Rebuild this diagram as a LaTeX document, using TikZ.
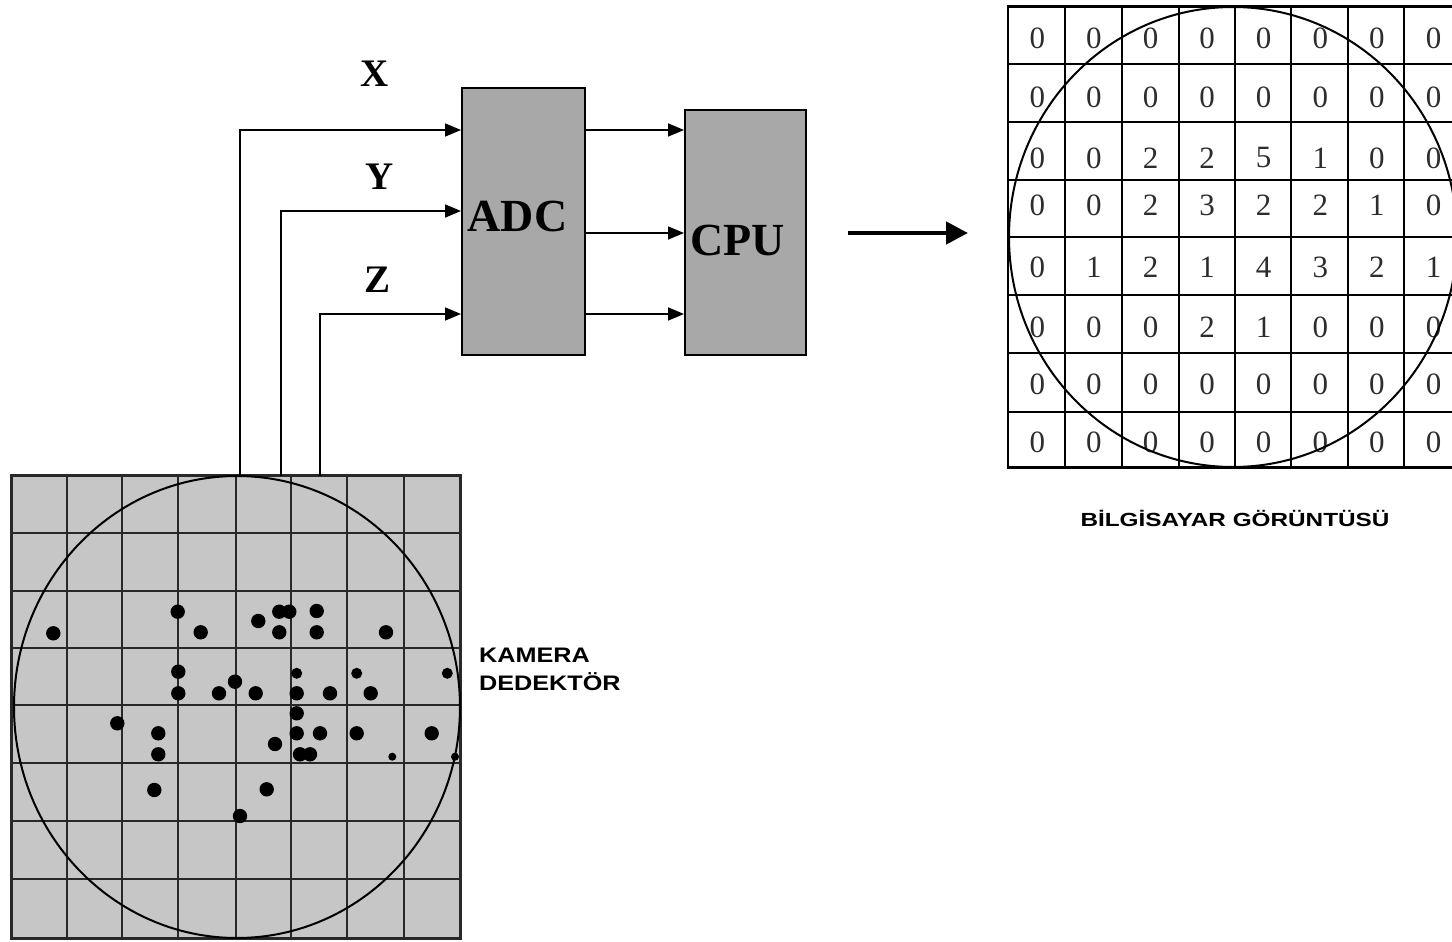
\documentclass[tikz,border=0pt]{standalone}
\usepackage{fontspec}
\usepackage{graphicx}
\setmainfont{Liberation Serif}
\newfontfamily\labelsans{Liberation Sans}
\usetikzlibrary{arrows.meta,calc}
\definecolor{detgray}{RGB}{198,198,198}
\definecolor{boxgray}{RGB}{168,168,168}
\definecolor{gridcol}{RGB}{40,40,40}
\definecolor{numcol}{RGB}{45,45,45}
\begin{document}
\begin{tikzpicture}[x=1pt,y=-1pt,
  box/.style={draw=black, line width=2pt, fill=boxgray, inner sep=0pt},
  boxtext/.style={font=\bfseries\fontsize{46}{50}\selectfont},
  axlabel/.style={font=\bfseries\fontsize{39}{42}\selectfont},
  arr/.style={line width=1.6pt, -{Triangle[length=16pt,width=13pt]}},
  bigarr/.style={line width=4.5pt, -{Triangle[length=22pt,width=22pt]}},
  gridline/.style={draw=gridcol, line width=2.2pt},
  mline/.style={draw=black, line width=2.2pt},
  rim/.style={draw=black, line width=2pt},
  dot/.style={fill=black},
  num/.style={font=\fontsize{31}{34}\selectfont, text=numcol, inner sep=0pt},
  sanslab/.style={font=\labelsans\bfseries, text=black, inner sep=0pt}]
\useasboundingbox (0,0) rectangle (1452,942);
\clip (0,0) rectangle (1452,942);
\fill[white] (0,0) rectangle (1452,942);

% ---------------- detector ----------------
\node[minimum width=448pt, minimum height=462pt, inner sep=0pt, fill=detgray] (det) at (236,707) {};
\foreach \x in {67,122,178,236,291,347,404}
  \draw[gridline] (\x,476) -- (\x,938);
\foreach \y in {533,591,648,705,763,821,879}
  \draw[gridline] (12,\y) -- (460,\y);
\draw[gridcol, line width=3pt] (det.south west) rectangle (det.north east);
\draw[rim] (237,707) ellipse [x radius=223pt, y radius=231pt];

% dots
\foreach \p in {(177.7,611.7),(200.7,632.3),(258.3,621),(279.3,611.7),(289.3,611.7),
  (279.3,632.3),(316.7,611),(316.7,632.3),(386,632.3),(178.3,671.7),(178.3,693.3),
  (235,681.7),(219,693.3),(255.7,693.3),(296.7,693.3),(330,693.3),(370.7,693.3),
  (117.3,723.3),(158.3,733.3),(158.3,754.3),(296.7,713.3),(296.7,733.3),(275,744),
  (320,733.3),(356.7,733.3),(431.7,733.3),(300,754.3),(310,754.3),(154.3,790),
  (266.7,789.3),(240,816),(53.3,633.3)}
  \fill[dot] \p circle (7.2pt);
\foreach \p in {(296.7,673.3),(356.7,673.3),(447.3,673.3)}
  \fill[dot] \p circle (5.5pt);
\foreach \p in {(392.3,756.7),(455,756.7)}
  \fill[dot] \p circle (4pt);

% ---------------- ADC / CPU ----------------
\node[box, minimum width=123pt, minimum height=267pt] (adc) at (523.5,221.5) {};
\node[box, minimum width=121pt, minimum height=245pt] (cpu) at (745.5,232.5) {};
\node[boxtext] at ($(adc.center)+(-6,-5)$) {ADC};
\node[boxtext] at ($(cpu.center)+(-8,8)$) {CPU};

\coordinate (xw) at (240,476);
\coordinate (yw) at (281,476);
\coordinate (zw) at (320,476);
\draw[arr] (xw) |- (adc.west |- 0,130);
\draw[arr] (yw) |- (adc.west |- 0,211);
\draw[arr] (zw) |- (adc.west |- 0,314);
\node[axlabel] at (375,74) {X};
\node[axlabel] at (380,177) {Y};
\node[axlabel] at (378,280) {Z};

\draw[arr] (adc.east |- 0,130) -- (cpu.west |- 0,130);
\draw[arr] (adc.east |- 0,233) -- (cpu.west |- 0,233);
\draw[arr] (adc.east |- 0,314) -- (cpu.west |- 0,314);

\coordinate (ba) at (848,233);
\coordinate (bb) at (968,233);
\draw[bigarr] (ba) -- (bb);

% ---------------- matrix ----------------
\node[minimum width=453pt, minimum height=460pt, inner sep=0pt, fill=white] (mat) at (1234.5,237) {};
\foreach \x in {1065,1122,1179,1235,1291,1348,1404}
  \draw[mline] (\x,7) -- (\x,467);
\foreach \y in {64,122,180,237,295,353,412}
  \draw[mline] (1008,\y) -- (1461,\y);
\draw[black, line width=2.6pt] (mat.south west) rectangle (mat.north east);

\foreach \v [count=\j] in {0,0,0,0,0,0,0,0} \node[num] at (980.7+56.6*\j,38) {\v};
\foreach \v [count=\j] in {0,0,0,0,0,0,0,0} \node[num] at (980.7+56.6*\j,97) {\v};
\foreach \v [count=\j] in {0,0,2,2,5,1,0,0} \node[num] at (980.7+56.6*\j,158) {\v};
\foreach \v [count=\j] in {0,0,2,3,2,2,1,0} \node[num] at (980.7+56.6*\j,205) {\v};
\foreach \v [count=\j] in {0,1,2,1,4,3,2,1} \node[num] at (980.7+56.6*\j,267) {\v};
\foreach \v [count=\j] in {0,0,0,2,1,0,0,0} \node[num] at (980.7+56.6*\j,327) {\v};
\foreach \v [count=\j] in {0,0,0,0,0,0,0,0} \node[num] at (980.7+56.6*\j,384) {\v};
\foreach \v [count=\j] in {0,0,0,0,0,0,0,0} \node[num] at (980.7+56.6*\j,442) {\v};
\draw[rim] (1233,237) ellipse [x radius=224pt, y radius=230pt];

% ---------------- labels ----------------
\node[sanslab, anchor=west, align=left, font=\labelsans\bfseries\fontsize{21}{28}\selectfont]
  (camlab) at (479,669) {\scalebox{1.2}[1]{KAMERA}\\\scalebox{1.2}[1]{DEDEKTÖR}};
\node[sanslab, font=\labelsans\bfseries\fontsize{19}{22}\selectfont]
  (pclab) at (1235,518) {\scalebox{1.28}[1]{BİLGİSAYAR GÖRÜNTÜSÜ}};
\end{tikzpicture}
\end{document}
